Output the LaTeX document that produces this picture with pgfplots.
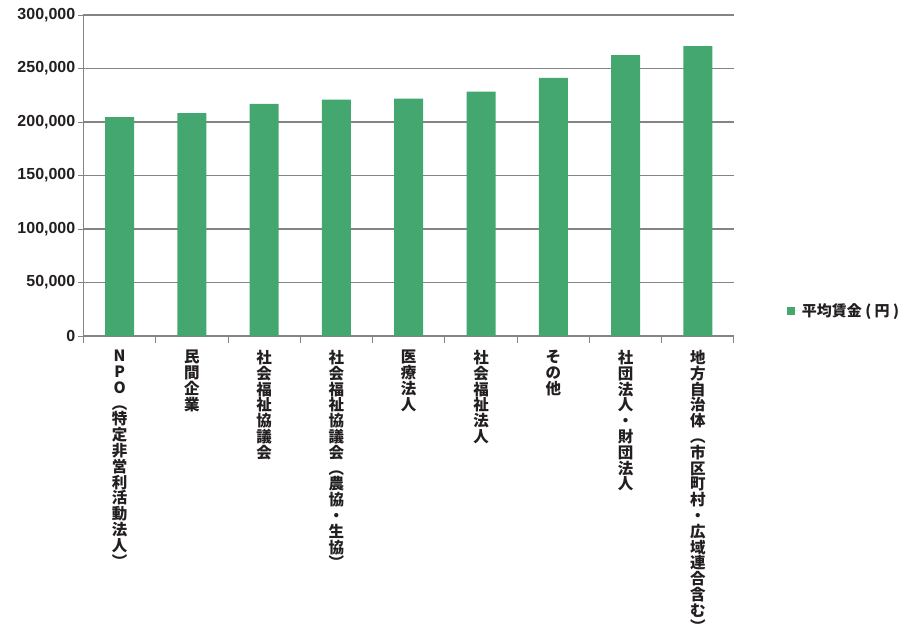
\documentclass[border=0pt]{standalone}
\usepackage{fontspec}
\setmainfont{Liberation Sans}
\newfontfamily\cjk{Noto Sans CJK JP}
\usepackage{pgfplots}
\pgfplotsset{compat=1.18}
\definecolor{bargreen}{RGB}{68,167,111}
\definecolor{gridgray}{RGB}{132,132,132}
\definecolor{txt}{RGB}{35,31,32}

\begin{document}
\begin{tikzpicture}
\useasboundingbox (0,0) rectangle (913pt,638pt);
\begin{axis}[
    at={(83.5pt,302pt)}, anchor=south west,
    scale only axis,
    width=650.5pt, height=321pt,
    ybar, bar width=29pt,
    xmin=-0.5, xmax=8.5,
    ymin=0, ymax=300000,
    axis x line*=bottom, axis y line*=left,
    axis line style={draw=gridgray, line width=1pt},
    ymajorgrids,
    grid style={draw=gridgray, line width=1.3pt},
    ytick={0,50000,...,300000},
    scaled y ticks=false,
    /pgf/number format/.cd, fixed, 1000 sep={,}, assume math mode=true, /pgfplots/.cd,
    yticklabel style={font=\fontsize{16}{16}\selectfont\bfseries, text=txt, inner sep=0pt, xshift=-3pt},
    xtick={0,...,8},
    major x tick style={draw=none},
    minor xtick={-0.5,0.5,...,8.5},
    tick align=outside,
    major tick length=5pt, minor tick length=7pt,
    tick style={draw=gridgray, line width=1pt},
    xticklabels={
      {N\\P\\O\\︵\\特\\定\\非\\営\\利\\活\\動\\法\\人\\︶},
      {民\\間\\企\\業},
      {社\\会\\福\\祉\\協\\議\\会},
      {社\\会\\福\\祉\\協\\議\\会\\︵\\農\\協\\・\\生\\協\\︶},
      {医\\療\\法\\人},
      {社\\会\\福\\祉\\法\\人},
      {そ\\の\\他},
      {社\\団\\法\\人\\・\\財\\団\\法\\人},
      {地\\方\\自\\治\\体\\︵\\市\\区\\町\\村\\・\\広\\域\\連\\合\\含\\む\\︶}},
    xticklabel style={font=\cjk\bfseries\fontsize{15.5}{15.8}\selectfont, text=txt,
      align=center, anchor=north, inner sep=0pt, yshift=-9pt},
    legend style={at={(1.081,0.078)}, anchor=west, draw=none, fill=none,
      font=\cjk\bfseries\fontsize{15}{15}\selectfont, text=txt, inner sep=0pt},
    legend image code/.code={\fill[bargreen] (0pt,-4pt) rectangle (8pt,4pt);
      \path (0pt,0pt) -- (13pt,0pt);},
]
\addplot[fill=bargreen, draw=none] coordinates {
    (0,204500) (1,208200) (2,217000) (3,220900) (4,221800)
    (5,228500) (6,241200) (7,262400) (8,270800)
};
\addlegendentry{平均賃金 ( 円 )}
\end{axis}
\end{tikzpicture}
\end{document}
